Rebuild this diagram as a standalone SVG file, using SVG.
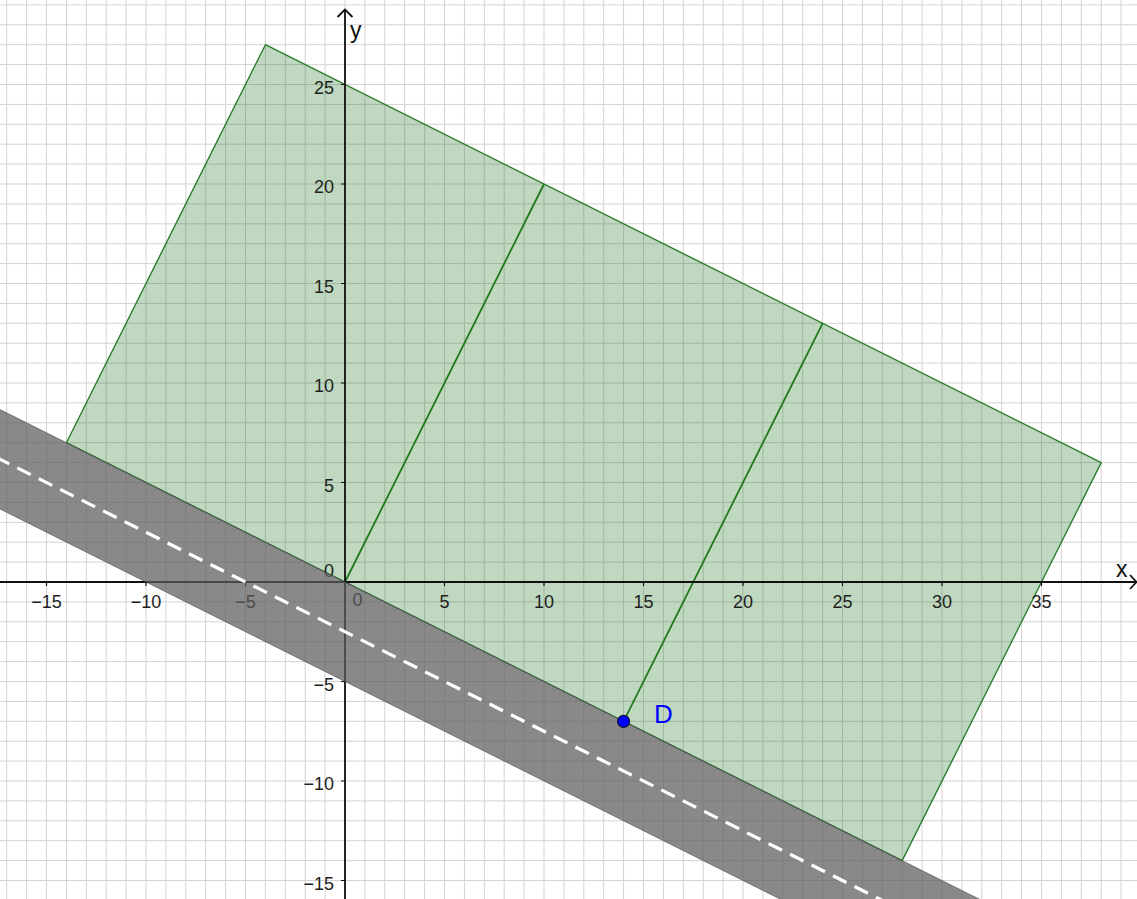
<svg xmlns="http://www.w3.org/2000/svg" width="1137" height="899" viewBox="0 0 1137 899">
<style>
.grid{stroke:#d3d3d3;stroke-width:1;fill:none}
.tick{font-family:"Liberation Sans",Arial,sans-serif;font-size:18px;fill:#1e1e1e}
.xl{text-anchor:middle}
.yl{text-anchor:end}
.axis{stroke:#111;stroke-width:1.8;fill:none}
.axlab{font-family:"Liberation Sans",Arial,sans-serif;font-size:23px;fill:#111}
.seg{stroke:#1d7a1d;stroke-width:1.8;fill:none}
</style>
<rect width="1137" height="899" fill="#fff"/>
<g id="grid" class="grid">
<path d="M6.7 0V899M26.6 0V899M46.5 0V899M66.4 0V899M86.3 0V899M106.2 0V899M126.1 0V899M146 0V899M165.9 0V899M185.8 0V899M205.7 0V899M225.6 0V899M245.5 0V899M265.4 0V899M285.3 0V899M305.2 0V899M325.1 0V899M345 0V899M364.9 0V899M384.8 0V899M404.7 0V899M424.6 0V899M444.5 0V899M464.4 0V899M484.3 0V899M504.2 0V899M524.1 0V899M544 0V899M563.9 0V899M583.8 0V899M603.7 0V899M623.6 0V899M643.5 0V899M663.4 0V899M683.3 0V899M703.2 0V899M723.1 0V899M743 0V899M762.9 0V899M782.8 0V899M802.7 0V899M822.6 0V899M842.5 0V899M862.4 0V899M882.3 0V899M902.2 0V899M922.1 0V899M942 0V899M961.9 0V899M981.8 0V899M1001.7 0V899M1021.6 0V899M1041.5 0V899M1061.4 0V899M1081.3 0V899M1101.2 0V899M1121.1 0V899"/>
<path d="M0 4.9H1137M0 24.8H1137M0 44.7H1137M0 64.6H1137M0 84.5H1137M0 104.4H1137M0 124.3H1137M0 144.2H1137M0 164.1H1137M0 184H1137M0 203.9H1137M0 223.8H1137M0 243.7H1137M0 263.6H1137M0 283.5H1137M0 303.4H1137M0 323.3H1137M0 343.2H1137M0 363.1H1137M0 383H1137M0 402.9H1137M0 422.8H1137M0 442.7H1137M0 462.6H1137M0 482.5H1137M0 502.4H1137M0 522.3H1137M0 542.2H1137M0 562.1H1137M0 582H1137M0 601.9H1137M0 621.8H1137M0 641.7H1137M0 661.6H1137M0 681.5H1137M0 701.4H1137M0 721.3H1137M0 741.2H1137M0 761.1H1137M0 781H1137M0 800.9H1137M0 820.8H1137M0 840.7H1137M0 860.6H1137M0 880.5H1137"/>
</g>
<g id="region">
<polygon points="66.4,442.7 265.4,44.7 1101.2,462.6 902.2,860.6" fill="#006400" fill-opacity="0.25" stroke="#2b7f2b" stroke-width="1.4" stroke-linejoin="round"/>
</g>
<g id="connectors">
<line class="seg" x1="345" y1="582" x2="544" y2="184"/>
<line class="seg" x1="623.6" y1="721.3" x2="822.6" y2="323.3"/>
</g>
<g id="axes">
<path class="axis" d="M0 582H1136M345 899V10"/>
<path class="axis" d="M1130 575L1136.5 582L1130 589M337.5 17L345 9.5L352.5 17" stroke-linejoin="miter"/>
<path stroke="#111" stroke-width="1.2" d="M46.5 582V586M146 582V586M245.5 582V586M444.5 582V586M544 582V586M643.5 582V586M743 582V586M842.5 582V586M942 582V586M1041.5 582V586M341 84.5H345M341 184H345M341 283.5H345M341 383H345M341 482.5H345M341 681.5H345M341 781H345M341 880.5H345"/>
<text class="axlab" x="1116" y="576.5">x</text>
<text class="axlab" x="350" y="38">y</text>
</g>
<g id="ticklabels" class="tick">
<text class="xl" x="46.5" y="608">−15</text>
<text class="xl" x="146" y="608">−10</text>
<text class="xl" x="245.5" y="608">−5</text>
<text class="xl" x="357.5" y="606">0</text>
<text class="xl" x="444.5" y="608">5</text>
<text class="xl" x="544" y="608">10</text>
<text class="xl" x="643.5" y="608">15</text>
<text class="xl" x="743" y="608">20</text>
<text class="xl" x="842.5" y="608">25</text>
<text class="xl" x="942" y="608">30</text>
<text class="xl" x="1041.5" y="608">35</text>
<text class="yl" x="334" y="93.5">25</text>
<text class="yl" x="334" y="193">20</text>
<text class="yl" x="334" y="292.5">15</text>
<text class="yl" x="334" y="392">10</text>
<text class="yl" x="334" y="491.5">5</text>
<text class="yl" x="334" y="577">0</text>
<text class="yl" x="334" y="690.5">−5</text>
<text class="yl" x="334" y="790">−10</text>
<text class="yl" x="334" y="889.5">−15</text>
</g>
<g id="road">
<polygon points="-53,383 1061.4,940.2 1061.4,1039.7 -53,482.5" fill="#5d5d5d" fill-opacity="0.73" stroke="#4a4a4a" stroke-opacity="0.6" stroke-width="1"/>
<line x1="-53" y1="432.75" x2="1061.4" y2="989.95" stroke="#fff" stroke-width="3.2" stroke-dasharray="15 9" stroke-dashoffset="17.4"/>
</g>
<g id="pointD">
<circle cx="623.6" cy="721.3" r="6" fill="#0000ff" stroke="#111133" stroke-width="1.2"/>
<text x="654" y="722.5" font-family="'Liberation Sans',Arial,sans-serif" font-size="26" fill="#0000ff">D</text>
</g>
</svg>
